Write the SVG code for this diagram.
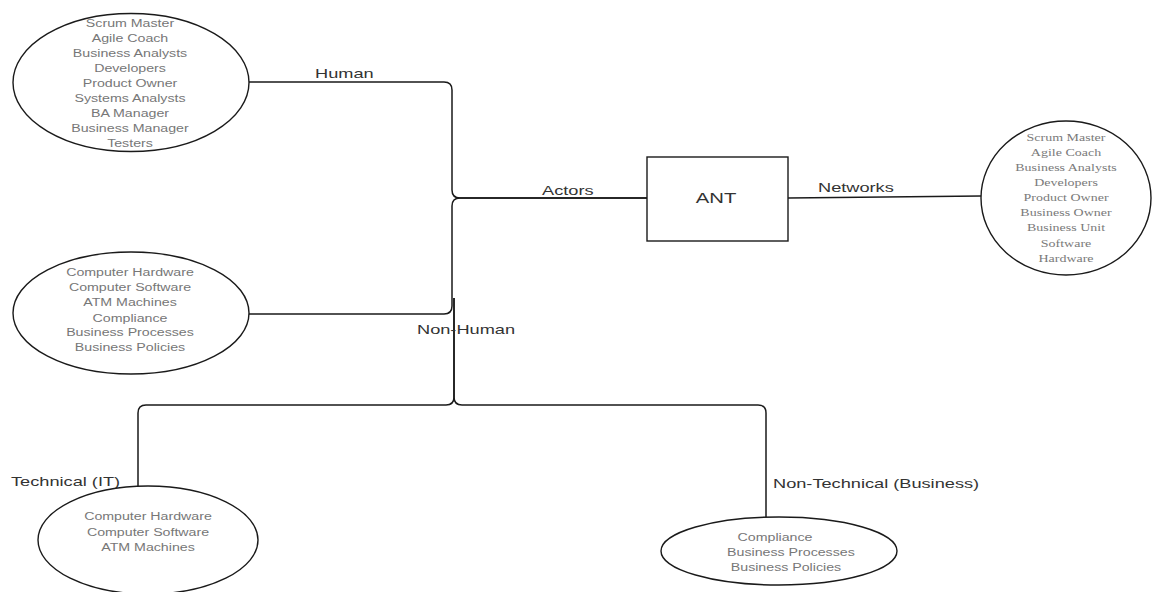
<svg xmlns="http://www.w3.org/2000/svg" width="1152" height="592" viewBox="0 0 1152 592">
  <style>
    .shape { fill: #ffffff; stroke: #1a1a1a; stroke-width: 1.4; }
    .edge { fill: none; stroke: #1a1a1a; stroke-width: 1.5; }
    .item { font-family: "Liberation Sans", Arial, sans-serif; font-size: 10px; fill: #777777; text-anchor: middle; }
    .item-serif { font-family: "Liberation Serif", "Times New Roman", serif; font-size: 10px; fill: #7a7a7a; text-anchor: middle; }
    .label { font-family: "Liberation Sans", Arial, sans-serif; font-size: 13px; fill: #333333; }
    .title { font-family: "Liberation Sans", Arial, sans-serif; font-size: 14.5px; fill: #333333; text-anchor: middle; }
  </style>
  <rect width="1152" height="592" fill="#ffffff"/>

  <!-- connectors -->
  <g id="connectors">
    <!-- Human actors to ANT -->
    <path class="edge" d="M249,82 H444 Q452,82 452,90 V190 Q452,198 460,198 H647"/>
    <!-- Non-human actors to ANT -->
    <path class="edge" d="M249,314 H444 Q452,314 452,306 V206 Q452,198 460,198 H647"/>
    <!-- ANT to networks -->
    <path class="edge" d="M788,198 L981,196"/>
    <!-- Non-human split: technical -->
    <path class="edge" d="M454,298 V397 Q454,405 446,405 H146 Q138,405 138,413 V486"/>
    <!-- Non-human split: non-technical -->
    <path class="edge" d="M454,298 V397 Q454,405 462,405 H758 Q766,405 766,413 V517"/>

    <g transform="translate(315,78) scale(1.4,1)"><text class="label">Human</text></g>
    <g transform="translate(542,195) scale(1.4,1)"><text class="label">Actors</text></g>
    <g transform="translate(818,192) scale(1.4,1)"><text class="label">Networks</text></g>
    <g transform="translate(417,334) scale(1.4,1)"><text class="label">Non-Human</text></g>
    <g transform="translate(11,486) scale(1.4,1)"><text class="label">Technical (IT)</text></g>
    <g transform="translate(773,488) scale(1.4,1)"><text class="label">Non-Technical (Business)</text></g>
  </g>

  <!-- human actors -->
  <g id="human">
    <ellipse class="shape" cx="131" cy="82.5" rx="118" ry="69"/>
    <g transform="translate(130,0) scale(1.42,1)">
      <text class="item" x="0" y="27">Scrum Master</text>
      <text class="item" x="0" y="42">Agile Coach</text>
      <text class="item" x="0" y="57">Business Analysts</text>
      <text class="item" x="0" y="72">Developers</text>
      <text class="item" x="0" y="87">Product Owner</text>
      <text class="item" x="0" y="102.5">Systems Analysts</text>
      <text class="item" x="0" y="117">BA Manager</text>
      <text class="item" x="0" y="132">Business Manager</text>
      <text class="item" x="0" y="147.5">Testers</text>
    </g>
  </g>

  <!-- non-human actors -->
  <g id="non-human">
    <ellipse class="shape" cx="131" cy="313" rx="118" ry="61"/>
    <g transform="translate(130,0) scale(1.42,1)">
      <text class="item" x="0" y="276.5">Computer Hardware</text>
      <text class="item" x="0" y="291.5">Computer Software</text>
      <text class="item" x="0" y="306.5">ATM Machines</text>
      <text class="item" x="0" y="322">Compliance</text>
      <text class="item" x="0" y="336.5">Business Processes</text>
      <text class="item" x="0" y="351.5">Business Policies</text>
    </g>
  </g>

  <!-- ANT -->
  <g id="ant">
    <rect class="shape" x="647" y="157" width="141" height="84"/>
    <g transform="translate(716,203) scale(1.4,1)"><text class="title">ANT</text></g>
  </g>

  <!-- networks -->
  <g id="networks">
    <ellipse class="shape" cx="1066" cy="198" rx="85" ry="77"/>
    <g transform="translate(1066,0) scale(1.4,1)">
      <text class="item-serif" x="0" y="141.5">Scrum Master</text>
      <text class="item-serif" x="0" y="156.5">Agile Coach</text>
      <text class="item-serif" x="0" y="171.5">Business Analysts</text>
      <text class="item-serif" x="0" y="186.5">Developers</text>
      <text class="item-serif" x="0" y="201.5">Product Owner</text>
      <text class="item-serif" x="0" y="216.5">Business Owner</text>
      <text class="item-serif" x="0" y="231.5">Business Unit</text>
      <text class="item-serif" x="0" y="247">Software</text>
      <text class="item-serif" x="0" y="262">Hardware</text>
    </g>
  </g>

  <!-- technical (IT) -->
  <g id="technical">
    <ellipse class="shape" cx="148" cy="540" rx="110" ry="54"/>
    <g transform="translate(148,0) scale(1.42,1)">
      <text class="item" x="0" y="520.5">Computer Hardware</text>
      <text class="item" x="0" y="536">Computer Software</text>
      <text class="item" x="0" y="551.5">ATM Machines</text>
    </g>
  </g>

  <!-- non-technical (business) -->
  <g id="non-technical">
    <ellipse class="shape" cx="779" cy="551" rx="118" ry="34"/>
    <g transform="scale(1.42,1)">
      <text class="item" x="545.8" y="541.5">Compliance</text>
      <text class="item" x="557" y="556.5">Business Processes</text>
      <text class="item" x="553.5" y="571.5">Business Policies</text>
    </g>
  </g>
</svg>
